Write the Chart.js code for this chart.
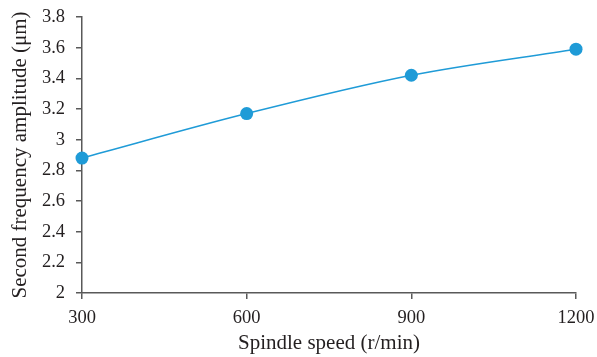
<!DOCTYPE html>
<html>
<head>
<meta charset="utf-8">
<script src="https://cdn.jsdelivr.net/npm/chart.js@4/dist/chart.umd.min.js"></script>
<style>
  html, body { margin: 0; padding: 0; background: #fff; }
  #wrap { width: 597px; height: 357px; position: relative; }
</style>
</head>
<body>
<div id="wrap"><canvas id="c"></canvas></div>
<script>
const speeds = [300, 600, 900, 1200];
const amplitudes = [2.88, 3.17, 3.42, 3.59];
const xTicks = [300, 600, 900, 1200];
const yTicks = [2, 2.2, 2.4, 2.6, 2.8, 3, 3.2, 3.4, 3.6, 3.8];
const xTitle = 'Spindle speed (r/min)';
const yTitle = 'Second frequency amplitude (\u03BCm)';

const FONT = '"Liberation Serif", "DejaVu Serif", serif';
const axisColor = '#595959';
const textColor = '#231f20';
const lineColor = '#1f9bd7';

new Chart(document.getElementById('c'), {
  type: 'line',
  data: {
    datasets: [{
      data: speeds.map((s, i) => ({ x: s, y: amplitudes[i] })),
      borderColor: lineColor,
      backgroundColor: lineColor,
      borderWidth: 1.5,
      pointRadius: 6.5,
      pointHoverRadius: 6.5,
      pointBorderWidth: 0,
      tension: 0.4,
      cubicInterpolationMode: 'monotone',
      clip: false
    }]
  },
  options: {
    responsive: true,
    maintainAspectRatio: false,
    animation: false,
    layout: { padding: { left: 8, right: 21, top: 17, bottom: 1 } },
    plugins: { legend: { display: false }, tooltip: { enabled: false } },
    scales: {
      x: {
        type: 'linear',
        min: 300, max: 1200,
        afterBuildTicks: (ax) => { ax.ticks = xTicks.map(v => ({ value: v })); },
        afterFit: (ax) => { ax.height = 63; ax.paddingLeft = 0; ax.paddingRight = 0; },
        grid: { display: true, drawOnChartArea: false, drawTicks: true, tickLength: 6, color: axisColor, lineWidth: 1.5 },
        border: { color: axisColor, width: 1.5 },
        ticks: { color: textColor, font: { family: FONT, size: 18.5 }, padding: 8, maxRotation: 0, callback: v => String(v) },
        title: { display: true, text: xTitle, color: textColor, font: { family: FONT, size: 21 }, padding: { top: 0, bottom: 0 } }
      },
      y: {
        type: 'linear',
        min: 2, max: 3.8,
        afterBuildTicks: (ax) => { ax.ticks = yTicks.map(v => ({ value: v })); },
        afterFit: (ax) => { ax.width = 74; ax.paddingTop = 0; ax.paddingBottom = 0; },
        grid: { display: true, drawOnChartArea: false, drawTicks: true, tickLength: 6, color: axisColor, lineWidth: 1.5 },
        border: { color: axisColor, width: 1.5 },
        ticks: { color: textColor, font: { family: FONT, size: 18.5 }, padding: 11, callback: v => String(Math.round(v * 10) / 10) },
        title: { display: true, text: yTitle, color: textColor, font: { family: FONT, size: 21 }, padding: { top: 0, bottom: 2 } }
      }
    }
  }
});
</script>
</body>
</html>
